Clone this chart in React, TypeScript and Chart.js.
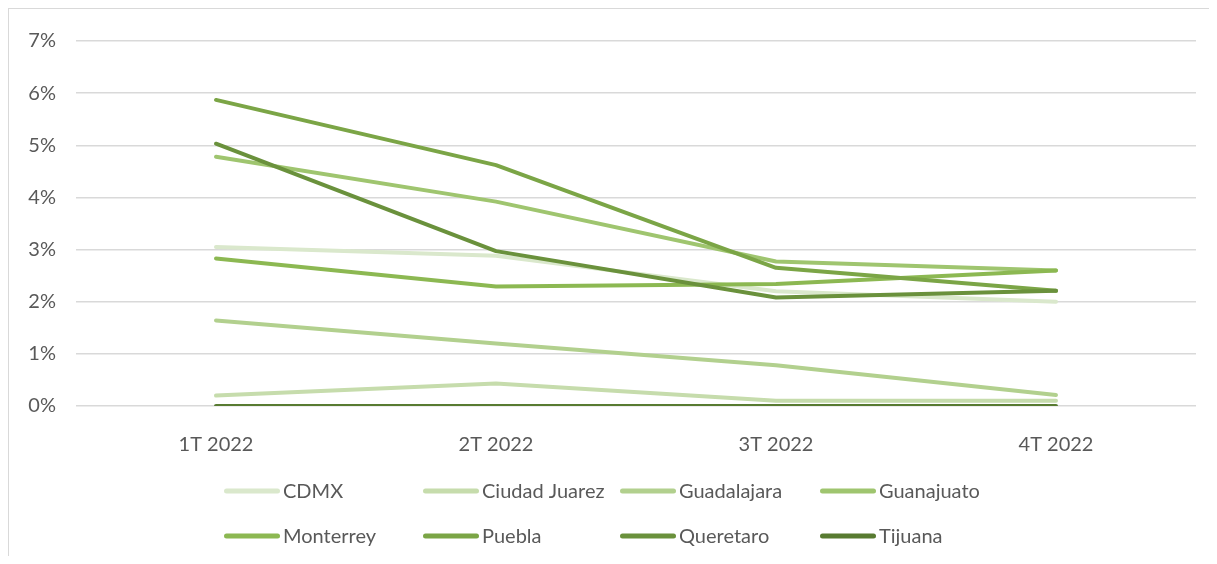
import React, { useEffect, useRef } from "react";
import { Chart, registerables } from "chart.js";

Chart.register(...registerables);

const categories = ["1T 2022", "2T 2022", "3T 2022", "4T 2022"];
const seriesNames = ["CDMX", "Ciudad Juarez", "Guadalajara", "Guanajuato", "Monterrey", "Puebla", "Queretaro", "Tijuana"];
const cdmx = [3.05, 2.88, 2.2, 2.0];
const ciudadJuarez = [0.2, 0.43, 0.1, 0.1];
const guadalajara = [1.64, 1.2, 0.78, 0.21];
const guanajuato = [4.78, 3.92, 2.77, 2.6];
const monterrey = [2.83, 2.29, 2.34, 2.6];
const puebla = [5.87, 4.62, 2.65, 2.21];
const queretaro = [5.03, 2.97, 2.08, 2.21];
const tijuana = [0, 0, 0, 0];
const seriesValues = [cdmx, ciudadJuarez, guadalajara, guanajuato, monterrey, puebla, queretaro, tijuana];
const seriesColors = ["#dae8cc", "#c6dcac", "#b2d08e", "#9fc56f", "#8cb852", "#7ba546", "#6a913c", "#587b31"];
const yTicks = [0, 1, 2, 3, 4, 5, 6, 7];

const FONT = "Lato, 'Noto Sans', sans-serif";
const TEXT = "#595959";

const gridLegend = {
  id: "gridLegend",
  afterDraw(chart: any) {
    const ctx = chart.ctx;
    const ds = chart.data.datasets;
    const colX = [215, 414, 611, 811];
    const rowY = [482, 527];
    const lineLen = 56;
    ctx.save();
    ctx.font = `20px ${FONT}`;
    ctx.textBaseline = "middle";
    ctx.textAlign = "left";
    ds.forEach((d: any, i: number) => {
      const x = colX[i % 4];
      const y = rowY[Math.floor(i / 4)];
      ctx.strokeStyle = d.borderColor;
      ctx.lineWidth = 5;
      ctx.lineCap = "round";
      ctx.beginPath();
      ctx.moveTo(x + 2.5, y);
      ctx.lineTo(x + lineLen - 2.5, y);
      ctx.stroke();
      ctx.fillStyle = TEXT;
      ctx.fillText(d.label, x + lineLen + 3, y + 1);
    });
    ctx.restore();
  },
};

export default function App() {
  const ref = useRef<HTMLCanvasElement | null>(null);
  useEffect(() => {
    if (!ref.current) return;
    const n = seriesNames.length;
    const chart = new Chart(ref.current, {
      type: "line",
      data: {
        labels: categories,
        datasets: seriesNames.map((name, i) => ({
          label: name,
          data: seriesValues[i],
          borderColor: seriesColors[i],
          backgroundColor: seriesColors[i],
          borderWidth: 4,
          pointRadius: 0,
          tension: 0,
          borderCapStyle: "round" as const,
          borderJoinStyle: "round" as const,
          order: n - i,
        })),
      },
      options: {
        animation: false,
        responsive: true,
        maintainAspectRatio: false,
        layout: { padding: { top: 29, right: 13, bottom: 100, left: 0 } },
        plugins: {
          legend: { display: false },
          tooltip: { enabled: false },
          title: { display: false },
        },
        scales: {
          x: {
            offset: true,
            grid: { display: false },
            border: { display: false },
            ticks: { color: TEXT, font: { family: FONT, size: 20 }, padding: 19, maxRotation: 0 },
            afterFit: (s: any) => {
              s.height = 50;
            },
          },
          y: {
            min: 0,
            max: 7,
            afterBuildTicks: (s: any) => {
              s.ticks = yTicks.map((v) => ({ value: v }));
            },
            grid: { color: "#d9d9d9", lineWidth: 1.5, drawTicks: false },
            border: { display: false },
            ticks: {
              color: TEXT,
              font: { family: FONT, size: 20 },
              padding: 20,
              callback: (v: any) => `${v}%`,
            },
            afterFit: (s: any) => {
              s.width = 67;
            },
          },
        },
      },
      plugins: [gridLegend],
    });
    return () => chart.destroy();
  }, []);
  return (
    <div
      style={{
        width: 1201,
        height: 548,
        boxSizing: "border-box",
        borderTop: "1px solid #d9d9d9",
        borderLeft: "1px solid #d9d9d9",
        position: "relative",
        background: "#fff",
      }}
    >
      <canvas ref={ref} />
    </div>
  );
}
